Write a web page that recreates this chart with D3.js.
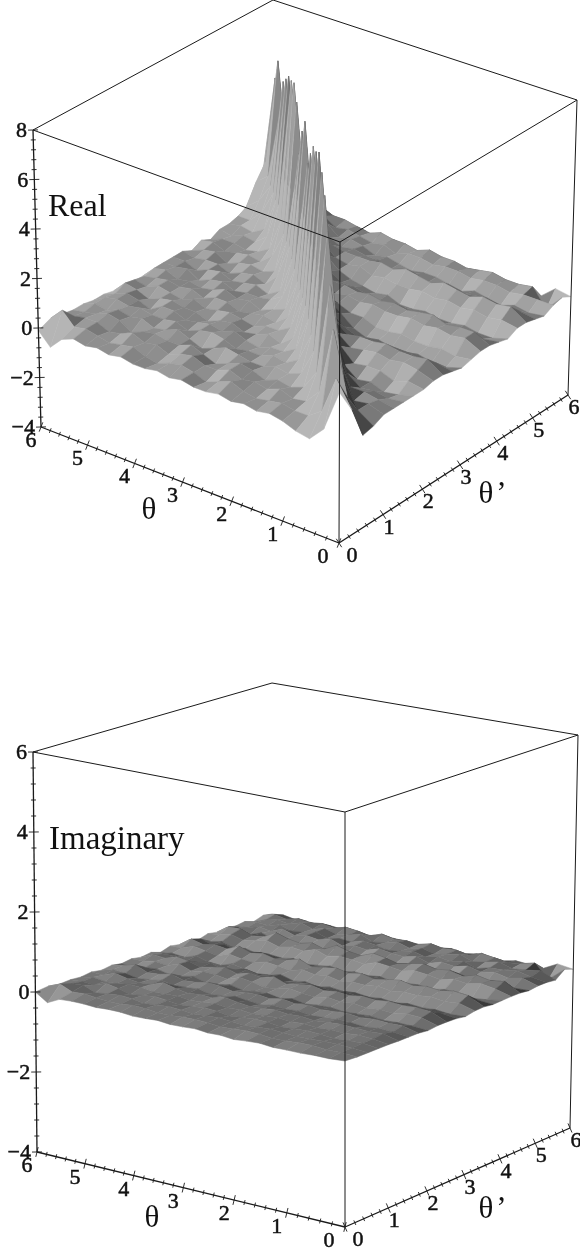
<!DOCTYPE html>
<html>
<head>
<meta charset="utf-8">
<script src="https://cdn.jsdelivr.net/npm/d3@7"></script>
<style>
html, body {margin: 0; padding: 0; background: #fff;}
svg {display: block; filter: blur(.4px);}
text {font-family: "Liberation Serif", serif; fill: #111;}
</style>
</head>
<body>
<svg id="chart"></svg>
<script>
var screen2 = {width: 580, height: 1252}

// tick labels
var thetaTicks = [0, 1, 2, 3, 4, 5, 6]
var realZTicks = [-4, -2, 0, 2, 4, 6, 8]
var imagZTicks = [-4, -2, 0, 2, 4, 6]

// grid positions, one for every column and row of the tables below
var gridTheta = [0, .25, .5, .75, 1, 1.25, 1.5, 1.75, 2, 2.25, 2.5, 2.75, 3, 3.25, 3.5, 3.75, 4, 4.25, 4.5, 4.75, 5, 5.25, 5.5, 5.75, 6]

// surface heights, rows are theta', columns are theta
var realZ = [
[2,.3,-.3,-.2,0,.1,0,.1,0,.1,0,0,.1,0,.1,0,0,.1,0,.1,0,.1,-.1,-.6,-.1],
[1,2,.5,.1,.1,.2,.1,0,.1,.3,.1,-.1,.1,.2,.1,-.1,0,.2,.1,0,.1,.2,.1,.6,.1],
[-.3,1,3.5,.8,.2,.1,.3,.1,.2,.1,.3,.1,.1,.3,.2,0,.2,.1,.3,.1,0,.2,.2,.1,0],
[-.2,.2,1.2,4.8,1.1,.3,.1,.2,0,.2,.3,.1,-.1,.1,.3,.1,.1,.2,.1,-.1,.2,.3,.1,0,-.1],
[0,.2,.1,1.4,6.5,1.5,.4,.2,.3,.1,.1,.2,.3,.1,-.1,.1,.3,.1,0,.2,.1,.2,0,.1,-.1],
[0,.1,.2,.2,1.6,7.5,1.7,.5,.2,.3,.1,.1,0,.2,.3,.2,0,.2,.1,.1,.2,.1,.2,.1,-.2],
[0,-.1,0,-.1,.3,1.8,8,1.9,.5,.2,.2,0,.1,.3,.1,.2,.1,0,.2,.2,-.1,.1,.2,0,-.2],
[0,-.2,-.3,-.1,-.2,.2,1.8,8.4,2,.5,.1,.3,.1,0,.2,.1,-.1,.1,.1,.2,.1,-.1,.1,.2,-.3],
[0,.1,-.1,.1,.1,0,.5,1.9,8,1.9,.5,.2,.2,0,.1,.2,.1,0,.2,0,.1,.2,0,.1,-.3],
[.1,.3,.4,.3,.4,.3,.2,.6,2,7.8,1.8,.5,.1,.2,.1,0,.2,.2,0,.2,.1,.2,.1,0,-.4],
[.1,.5,.4,.4,.5,.4,.4,.3,.7,1.7,7.1,1.7,.4,.2,0,.2,.1,.3,.1,0,.1,0,.2,.1,-.4],
[0,.1,0,.1,.1,-.1,.1,0,.2,.6,1.8,6.3,1.8,.5,.2,.1,.1,0,.2,.1,-.1,.2,.1,.1,-.4],
[-.1,-.3,-.3,-.2,-.3,-.3,-.2,-.3,-.1,.3,.7,1.9,7.6,1.8,.3,0,.2,.1,0,.2,.1,-.1,.1,.1,-.5],
[0,-.1,0,-.1,-.1,0,-.1,-.1,.1,.1,.3,.5,1.8,6.8,1.9,.5,0,.2,.1,-.1,.1,.1,0,.1,-.5],
[.1,.4,.3,.4,.3,.4,.3,.3,.4,.3,.4,.3,.7,2,5.5,1.7,.3,.1,.2,.1,-.1,.2,.1,-.1,-.5],
[.1,.4,.4,.3,.5,.4,.3,.4,.3,.4,.3,.4,.4,.7,1.9,7.2,1.6,.5,.1,.2,.1,0,.2,.1,-.6],
[0,-.1,0,-.1,-.1,0,-.1,0,-.1,-.1,0,.1,.1,.4,.5,1.8,7.6,1.8,.4,.1,0,.1,.1,-.1,-.5],
[-.1,-.3,-.3,-.2,-.3,-.3,-.2,-.3,-.3,-.1,-.2,-.1,0,.2,.6,.9,2,7.3,2,.5,.1,.2,0,.1,-.6],
[.1,.2,.1,.2,.1,.2,.1,.2,.1,.1,.2,.1,.3,.2,.3,.7,.9,1.8,7.1,1.8,.4,.1,.2,.1,-.5],
[.1,.5,.4,.5,.3,.4,.5,.3,.4,.5,.3,.4,.3,.3,.3,.4,.5,.9,1.8,6.6,1.7,.7,.2,.2,-.5],
[0,.1,0,.1,.1,0,.1,.1,-.1,.1,.1,-.1,.1,.1,.2,.1,.3,.4,1,1.7,6.1,1.6,.8,.4,-.4],
[-.1,-.2,-.1,-.3,-.2,-.1,-.3,-.2,-.1,-.1,-.2,-.1,0,-.1,.1,.2,.1,.5,.7,.9,1.6,4.5,1.6,1.2,-.2],
[.1,.1,.1,0,.1,.1,0,.1,.1,0,.1,.1,-.1,.1,0,.1,.2,.1,.4,.7,.9,1.7,6.2,1.8,.4],
[.2,-.5,.2,.1,.1,.2,.1,0,.1,.1,.2,0,.1,.1,.2,0,.1,.2,.2,.4,.6,.9,1.8,5.1,.9],
[0,.1,-.4,-.3,-.5,-.4,-.5,-.3,-.5,-.4,-.3,-.5,-.4,-.3,-.5,-.4,-.3,-.5,-.4,-.3,-.2,-.2,.2,.6,.6]
]

var imagZ = [
[0,-.03,-.03,-.05,-.05,-.06,-.03,-.05,-.08,-.05,-.06,-.03,-.05,-.06,-.03,-.05,-.06,-.03,-.03,-.05,-.03,-.03,-.05,-.2,0],
[-.02,0,-.01,.02,.01,-.02,-.02,.01,.02,-.01,-.02,.01,.02,.01,-.02,-.02,.02,.03,-.01,-.01,.02,.05,.03,.16,.04],
[-.02,.01,.02,.02,0,-.01,.01,.03,.01,-.02,.01,.03,.01,-.01,.02,.04,.01,-.02,.03,.05,.02,-.02,.1,.08,0],
[-.02,.02,.01,-.01,.02,.03,.01,-.01,.03,.04,.01,-.02,.03,.05,.01,-.01,.03,.06,.02,-.02,.06,.12,.02,.04,.02],
[-.02,.03,.05,.02,.03,.01,.04,.02,.05,.03,.01,.04,.02,.06,.03,.01,.05,.03,.02,.06,.08,.03,.02,.06,0],
[-.03,.06,.04,.06,.07,.05,.02,.06,.04,.08,.05,.03,.07,.12,.04,.06,.03,.08,.16,.05,.03,.07,.14,.03,.04],
[-.03,.01,.03,-.01,.02,.04,.01,-.01,.03,.01,.04,-.01,.02,.06,.01,-.02,.05,.02,.01,.07,.02,-.01,.05,.08,0],
[-.03,.07,.06,.08,.05,.09,.06,.04,.08,.05,.1,.04,.08,.06,.03,.09,.12,.06,.04,.14,.07,.05,.18,.1,.04],
[-.06,-.03,-.02,-.04,0,-.02,-.03,.01,-.01,-.04,.02,-.03,.03,.01,-.03,.04,-.01,-.03,.06,0,-.02,.05,.03,-.04,0],
[-.03,.08,.1,.05,.07,.04,.09,.06,.1,.04,.07,.12,.05,.02,.09,.14,.03,.08,.1,.05,.16,.06,.1,.05,.04],
[-.03,.14,.17,.15,.18,.14,.17,.12,.15,.11,.18,.13,.08,.2,.12,.16,.08,.18,.12,.06,.15,.2,.1,.13,0],
[-.04,.02,.03,-.01,.04,-.03,.03,0,.06,.01,.04,.07,.03,-.02,.08,.02,.1,.03,-.02,.09,.03,.01,.08,.06,.04],
[-.08,-.1,-.06,-.08,-.05,-.1,-.06,-.09,-.05,-.08,-.04,-.1,-.03,-.07,.02,-.05,-.08,-.02,.04,-.06,-.03,.06,-.04,0,-.04],
[-.03,.08,.05,.1,.06,.08,.04,.09,.05,.07,.03,.1,.06,.12,.04,.09,.13,.05,.08,.14,.04,.1,.16,.05,.04],
[-.02,.18,.22,.16,.2,.15,.22,.17,.12,.19,.14,.2,.16,.11,.24,.16,.12,.2,.15,.26,.13,.18,.12,.2,0],
[-.05,-.02,-.04,.02,-.01,-.04,.02,-.03,.01,-.02,.04,-.02,.05,.01,-.03,.07,.02,-.02,.08,.03,-.01,.1,.03,.12,.04],
[-.04,-.1,-.13,-.08,-.05,-.11,-.07,-.08,-.12,-.05,-.09,-.06,-.11,-.04,-.08,-.12,-.03,-.08,-.05,-.1,-.02,-.06,.04,-.02,-.04],
[-.03,.08,.14,.07,.12,.04,.1,.14,.07,.12,.16,.05,.1,.13,.07,.18,.08,.12,.06,.16,.1,.05,.14,.08,.04],
[-.03,.18,.13,.2,.1,.19,.15,.22,.16,.1,.18,.24,.12,.17,.26,.1,.2,.13,.18,.28,.12,.08,.2,.2,0],
[-.06,-.07,.01,-.09,-.05,.02,-.08,-.03,-.09,.01,-.05,-.02,.03,-.06,-.02,.05,-.04,.02,-.05,.04,-.03,.08,-.02,.1,.04],
[-.03,.09,.02,.1,.04,.13,.05,.1,.01,.12,.05,.08,.13,.04,.09,.02,.14,.06,.11,.05,.16,.04,.1,.02,0],
[-.03,.03,.12,.07,.06,-.02,.1,.03,.09,.02,.11,.05,.01,.08,.13,.04,.07,.02,.12,.06,.03,.13,.05,.08,.04],
[-.06,.1,.05,.02,.12,.06,.01,.13,.07,.02,.1,.04,.14,.06,.02,.15,.08,.04,.13,.05,.16,.07,.12,.06,-.04],
[.12,-.2,.14,.06,.02,.08,.13,.02,.09,.07,.13,.05,.09,.07,.14,.04,.1,.14,.06,.12,.08,.13,.06,.12,.04],
[.04,.1,-.08,-.05,-.02,-.08,-.05,-.03,-.08,-.02,-.05,-.03,-.08,-.05,-.03,-.06,-.08,-.03,-.05,-.02,-.05,-.02,-.03,.03,0]
]

// box corners in page pixels, named by theta, theta', z end
var realPlot = {
    title: "Real", titleX: 48, titleY: 216, titleSize: 32,
    zTicks: realZTicks, zDomain: [-4, 8], table: realZ,
    mean: 143, gain: 56, zLift: .5,
    corners: {b00: [339, 543], b10: [41, 427], b01: [568, 395], b11: [271, 285],
              t00: [340, 242], t10: [33, 130], t01: [577, 100], t11: [273, 0]},
    thetaLabel: [149, 519], primeLabel: [494, 503]
}
var imagPlot = {
    title: "Imaginary", titleX: 49, titleY: 849, titleSize: 33,
    zTicks: imagZTicks, zDomain: [-4, 6], table: imagZ,
    mean: 110, gain: 74, zLift: .83,
    corners: {b00: [345, 1227], b10: [37, 1152], b01: [570, 1128], b11: [272, 1068],
              t00: [345, 812], t10: [33, 752], t01: [578, 735], t11: [272, 683]},
    thetaLabel: [152, 1227], primeLabel: [494, 1218]
}

var svg = d3.select("#chart")
    .attr("width", screen2.width)
    .attr("height", screen2.height)

var uScale = d3.scalePow().exponent(.93).domain([0, 6]).range([0, 1])
var vScale = d3.scalePow().exponent(.92).domain([0, 6]).range([0, 1])
var grayScale = d3.scaleLinear().clamp(true).domain([30, 182]).range([30, 182])

var lerp2 = function (a, b, t)
{
    return [a[0] + (b[0] - a[0]) * t, a[1] + (b[1] - a[1]) * t]
}

var makeProject = function (plot)
{
    var wScale = d3.scaleLinear().domain(plot.zDomain).range([0, 1])
    var c = plot.corners
    return function (theta, thetaPrime, z)
    {
        var u = uScale(theta), v = vScale(thetaPrime), w = wScale(z)
        var bottom = lerp2(lerp2(c.b00, c.b10, u), lerp2(c.b01, c.b11, u), v)
        var top = lerp2(lerp2(c.t00, c.t10, u), lerp2(c.t01, c.t11, u), v)
        return lerp2(bottom, top, w)
    }
}

// light comes from the left, so facets turned to the right go dark
// the normal comes from the two diagonals of the cell
var shade = function (plot, a, b, c, d)
{
    var ux = d[0] - a[0], uy = d[1] - a[1], uz = (d[2] - a[2]) * plot.zLift
    var vx = c[0] - b[0], vy = c[1] - b[1], vz = (c[2] - b[2]) * plot.zLift
    var nx = uy * vz - uz * vy, ny = uz * vx - ux * vz, nz = ux * vy - uy * vx
    if (nz < 0) {nx = -nx; ny = -ny; nz = -nz}
    var len = Math.sqrt(nx * nx + ny * ny + nz * nz)
    var dot = (nx * .62 - ny * .62 + nz * .2) / len
    var g = Math.round(grayScale(plot.mean + plot.gain * (dot - .2) * 1.6))
    return d3.rgb(g, g, g).formatHex()
}

var drawSurface = function (g, plot, project)
{
    var line = d3.line()
    var cells = []
    d3.range(gridTheta.length - 1).forEach(function (j)
    {
        d3.range(gridTheta.length - 1).forEach(function (i)
        {
            cells.push({i: i, j: j})
        })
    })
    // paint from the far corner to the near one
    cells.sort(function (a, b) {return (b.i + b.j) - (a.i + a.j)})

    var vertex = function (i, j)
    {
        return [gridTheta[i], gridTheta[j], plot.table[j][i]]
    }
    var quads = cells.map(function (cell)
    {
        return {
            a: vertex(cell.i, cell.j),
            b: vertex(cell.i + 1, cell.j),
            c: vertex(cell.i, cell.j + 1),
            d: vertex(cell.i + 1, cell.j + 1)
        }
    })

    g.append("g")
        .selectAll("path")
        .data(quads)
        .enter()
        .append("path")
        .attr("d", function (q)
        {
            return line([q.a, q.b, q.d, q.c].map(function (p) {return project(p[0], p[1], p[2])})) + "Z"
        })
        .attr("fill", function (q) {return shade(plot, q.a, q.b, q.c, q.d)})
        .attr("stroke", function (q) {return shade(plot, q.a, q.b, q.c, q.d)})
        .attr("stroke-width", .5)
        .attr("stroke-linejoin", "round")
}

var drawSegment = function (g, a, b, width)
{
    g.append("line")
        .attr("x1", a[0]).attr("y1", a[1])
        .attr("x2", b[0]).attr("y2", b[1])
        .attr("stroke", "#1a1a1a")
        .attr("stroke-width", width || 1)
}

var drawBox = function (g, plot)
{
    var c = plot.corners
    drawSegment(g, c.t10, c.t00)
    drawSegment(g, c.t00, c.t01)
    drawSegment(g, c.t01, c.t11)
    drawSegment(g, c.t11, c.t10)
    drawSegment(g, c.t00, c.b00)
    drawSegment(g, c.t01, c.b01)
    drawSegment(g, c.t10, c.b10, 1.3)
    drawSegment(g, c.b10, c.b00, 1.3)
    drawSegment(g, c.b00, c.b01, 1.3)
}

// tick marks stand across the axis they belong to
var drawAxisTicks = function (g, start, end, pos, major)
{
    var dx = end[0] - start[0], dy = end[1] - start[1]
    var len = Math.sqrt(dx * dx + dy * dy)
    var px = -dy / len, py = dx / len
    pos.forEach(function (t)
    {
        var p = t.p
        var s = t.major ? major : 2.5
        drawSegment(g, [p[0] - px * s, p[1] - py * s], [p[0] + px * s, p[1] + py * s], .9)
    })
}

var addLabels = function (g, data, anchor, xf, yf, label)
{
    g.append("g").selectAll("text")
        .data(data)
        .enter()
        .append("text")
        .attr("x", xf)
        .attr("y", yf)
        .attr("text-anchor", anchor)
        .attr("font-size", 22)
        .attr("stroke", "#111")
        .attr("stroke-width", .5)
        .text(label)
}

var drawAxes = function (g, plot, project)
{
    var c = plot.corners
    var z0 = plot.zDomain[0], z1 = plot.zDomain[1]

    var thetaPos = d3.range(0, 6.01, .2).map(function (t)
    {
        return {p: project(t, 0, z0), major: Math.abs(t - Math.round(t)) < .01}
    })
    var primePos = d3.range(0, 6.01, .2).map(function (t)
    {
        return {p: project(0, t, z0), major: Math.abs(t - Math.round(t)) < .01}
    })
    var zPos = d3.range(z0, z1 + .01, .4).map(function (t)
    {
        return {p: project(6, 0, t), major: Math.abs(t / 2 - Math.round(t / 2)) < .01}
    })
    drawAxisTicks(g, c.b00, c.b10, thetaPos, 5)
    drawAxisTicks(g, c.b00, c.b01, primePos, 5)
    drawAxisTicks(g, c.b10, c.t10, zPos, 5)

    addLabels(g, thetaTicks, "middle",
        function (t) {return project(t, 0, z0)[0] - (t == 0 ? 16 : 10)},
        function (t) {return project(t, 0, z0)[1] + 20},
        function (t) {return t})

    addLabels(g, thetaTicks, "middle",
        function (t) {return project(0, t, z0)[0] + (t == 0 ? 13 : 6)},
        function (t) {return project(0, t, z0)[1] + 19},
        function (t) {return t})

    addLabels(g, plot.zTicks, "end",
        function (t) {return project(6, 0, t)[0] - 6},
        function (t) {return project(6, 0, t)[1] + 7},
        function (t) {return t < 0 ? "\u2212" + (-t) : t})

    g.append("text")
        .attr("x", plot.titleX).attr("y", plot.titleY)
        .attr("font-size", plot.titleSize)
        .text(plot.title)

    g.append("text")
        .attr("x", plot.thetaLabel[0]).attr("y", plot.thetaLabel[1])
        .attr("text-anchor", "middle")
        .attr("font-size", 31)
        .text("\u03b8")

    g.append("text")
        .attr("x", plot.primeLabel[0]).attr("y", plot.primeLabel[1])
        .attr("text-anchor", "middle")
        .attr("font-size", 31)
        .attr("letter-spacing", 3)
        .text("\u03b8\u2019")
}

var drawPlot = function (plot)
{
    var g = svg.append("g")
    var project = makeProject(plot)
    drawSurface(g, plot, project)
    drawBox(g, plot)
    drawAxes(g, plot, project)
}

drawPlot(realPlot)
drawPlot(imagPlot)
</script>
</body>
</html>
